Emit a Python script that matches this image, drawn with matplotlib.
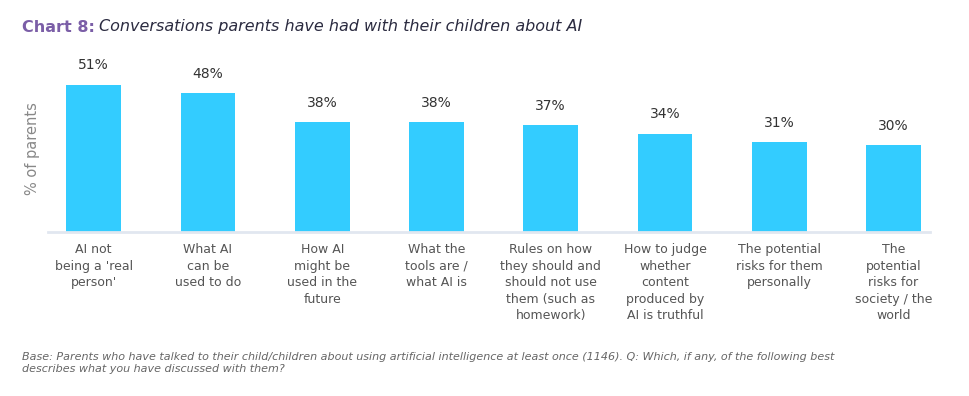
import matplotlib
matplotlib.use("Agg")
import matplotlib.pyplot as plt

categories = [
    "AI not\nbeing a 'real\nperson'",
    "What AI\ncan be\nused to do",
    "How AI\nmight be\nused in the\nfuture",
    "What the\ntools are /\nwhat AI is",
    "Rules on how\nthey should and\nshould not use\nthem (such as\nhomework)",
    "How to judge\nwhether\ncontent\nproduced by\nAI is truthful",
    "The potential\nrisks for them\npersonally",
    "The\npotential\nrisks for\nsociety / the\nworld",
]
values = [51, 48, 38, 38, 37, 34, 31, 30]
value_labels = ["51%", "48%", "38%", "38%", "37%", "34%", "31%", "30%"]

W, H = 969, 396
fig = plt.figure(figsize=(W / 100, H / 100), dpi=100)
fig.patch.set_facecolor("white")

left, right = 48 / W, 930 / W
bottom_px, top_px = 232, 59
ax = fig.add_axes([left, 1 - bottom_px / H, right - left, (bottom_px - top_px) / H])

x = list(range(len(values)))
ax.bar(x, values, width=0.48, color="#33CCFF", zorder=2)
ax.set_xlim(-0.4, len(values) - 1 + 0.32)
ax.set_ylim(0, 173 / 2.888)

for xi, v, lab in zip(x, values, value_labels):
    ax.annotate(lab, (xi, v), xytext=(0, 9), textcoords="offset points",
                ha="center", va="bottom", fontsize=10, color="#333333")

for s in ["top", "right", "left"]:
    ax.spines[s].set_visible(False)
ax.spines["bottom"].set_color("#e1e7f0")
ax.spines["bottom"].set_linewidth(2)
ax.set_yticks([])
ax.set_xticks(x)
ax.set_xticklabels(categories, fontsize=9, color="#555555", linespacing=1.35, va="top")
ax.tick_params(axis="x", length=0, pad=8)

ax.set_ylabel("% of parents", fontsize=10.5, color="#888888")
ax.yaxis.set_label_coords(-0.009, 0.48)

t1 = fig.text(22 / W, 1 - 27 / H, "Chart 8:", fontsize=11.5, fontweight="bold",
              color="#7b5ea7", va="center", ha="left")
fig.canvas.draw()
bb = t1.get_window_extent(renderer=fig.canvas.get_renderer())
fig.text((bb.x1 + 4) / W, 1 - 27 / H, "Conversations parents have had with their children about AI",
         fontsize=11.5, style="italic", color="#2b2b40", va="center", ha="left")

fig.text(22 / W, 1 - 363 / H,
         "Base: Parents who have talked to their child/children about using artificial intelligence at least once (1146). Q: Which, if any, of the following best\n"
         "describes what you have discussed with them?",
         fontsize=8, style="italic", color="#666666", va="center", ha="left", linespacing=1.25)

fig.savefig("out.png", dpi=100, facecolor="white")
